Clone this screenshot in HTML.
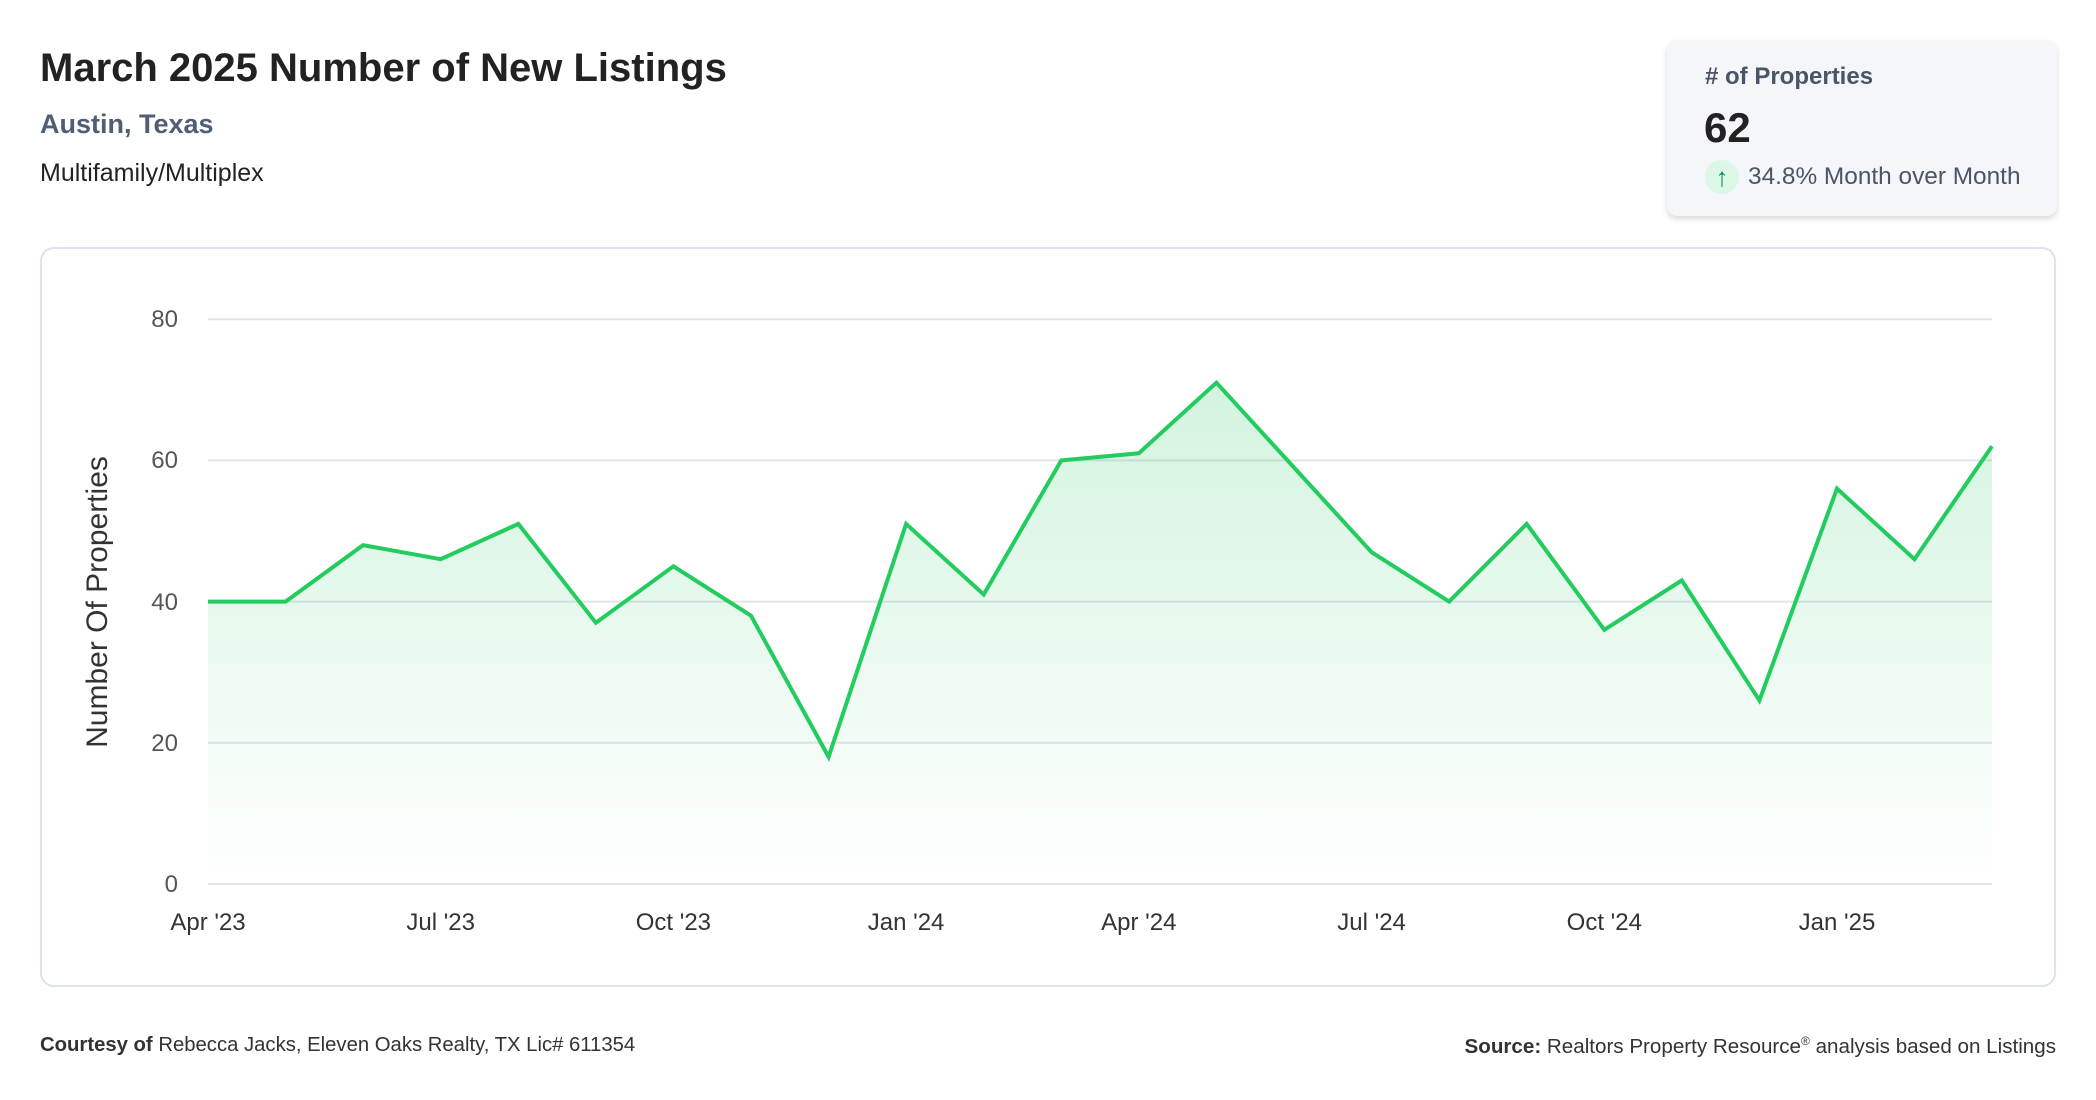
<!DOCTYPE html>
<html><head><meta charset="utf-8"><style>
body{margin:0;width:2096px;height:1100px;background:#fff;font-family:"Liberation Sans",sans-serif;position:relative;overflow:hidden}
.a{position:absolute;white-space:nowrap}
</style></head><body>
<div class="a" style="left:40px;top:46px;font-size:40px;font-weight:bold;color:#222">March 2025 Number of New Listings</div>
<div class="a" style="left:40px;top:109px;font-size:27px;font-weight:bold;color:#4f5d75">Austin, Texas</div>
<div class="a" style="left:40px;top:159px;font-size:25px;color:#222">Multifamily/Multiplex</div>

<div class="a" style="left:1667px;top:40px;width:390px;height:176px;background:#f5f6f9;border-radius:10px;box-shadow:0 3px 6px rgba(0,0,0,0.15)"></div>
<div class="a" style="left:1705px;top:63px;font-size:24px;font-weight:bold;color:#4a5568"># of Properties</div>
<div class="a" style="left:1704px;top:104px;font-size:42px;font-weight:bold;color:#222">62</div>
<div class="a" style="left:1705px;top:160px;width:34px;height:34px;border-radius:50%;background:#dcf7e6;color:#0f8a5f;font-size:26px;text-align:center;line-height:34px">↑</div>
<div class="a" style="left:1748px;top:163px;font-size:24.4px;color:#4a5568">34.8% Month over Month</div>

<div class="a" style="left:40px;top:247px;width:2012px;height:736px;border:2px solid #dde2ec;border-radius:14px"></div>

<svg class="a" style="left:0;top:0" width="2096" height="1100">
<defs><linearGradient id="g" x1="0" y1="0" x2="0" y2="1"><stop offset="0" stop-color="#22c55e" stop-opacity="0.2"/><stop offset="1" stop-color="#22c55e" stop-opacity="0"/></linearGradient></defs>
<g stroke="#e2e4e8" stroke-width="2">
<line x1="208" y1="319.2" x2="1992" y2="319.2"/><line x1="208" y1="460.4" x2="1992" y2="460.4"/><line x1="208" y1="601.6" x2="1992" y2="601.6"/><line x1="208" y1="742.8" x2="1992" y2="742.8"/><line x1="208" y1="884" x2="1992" y2="884"/>
</g>
<polygon fill="url(#g)" points="208,884 208,601.6 285.6,601.6 363.1,545.1 440.7,559.2 518.3,523.9 595.9,622.8 673.4,566.3 751,615.7 828.6,756.9 906.1,523.9 983.7,594.5 1061.3,460.4 1138.8,453.3 1216.4,382.7 1294,467.5 1371.6,552.2 1449.1,601.6 1526.7,523.9 1604.3,629.8 1681.8,580.4 1759.4,700.4 1837,488.6 1914.5,559.2 1992,446.3 1992,884"/>
<polyline fill="none" stroke="#22cc5e" stroke-width="4" points="208,601.6 285.6,601.6 363.1,545.1 440.7,559.2 518.3,523.9 595.9,622.8 673.4,566.3 751,615.7 828.6,756.9 906.1,523.9 983.7,594.5 1061.3,460.4 1138.8,453.3 1216.4,382.7 1294,467.5 1371.6,552.2 1449.1,601.6 1526.7,523.9 1604.3,629.8 1681.8,580.4 1759.4,700.4 1837,488.6 1914.5,559.2 1992,446.3"/>
<g font-family="Liberation Sans,sans-serif" font-size="24" fill="#555" text-anchor="end">
<text x="178" y="327">80</text><text x="178" y="468">60</text><text x="178" y="610">40</text><text x="178" y="751">20</text><text x="178" y="892">0</text>
</g>
<g font-family="Liberation Sans,sans-serif" font-size="24" fill="#333" text-anchor="middle">
<text x="208" y="930">Apr '23</text><text x="440.7" y="930">Jul '23</text><text x="673.4" y="930">Oct '23</text><text x="906.1" y="930">Jan '24</text><text x="1138.8" y="930">Apr '24</text><text x="1371.6" y="930">Jul '24</text><text x="1604.3" y="930">Oct '24</text><text x="1837" y="930">Jan '25</text>
</g>
<text transform="translate(107,602) rotate(-90)" font-family="Liberation Sans,sans-serif" font-size="30" fill="#333" text-anchor="middle">Number Of Properties</text>
</svg>

<div class="a" style="left:40px;top:1034px;font-size:20.3px;color:#333"><b>Courtesy of</b> Rebecca Jacks, Eleven Oaks Realty, TX Lic# 611354</div>
<div class="a" style="right:40px;top:1034px;font-size:20.6px;color:#333"><b>Source:</b> Realtors Property Resource<sup style="font-size:12px">®</sup> analysis based on Listings</div>
</body></html>
